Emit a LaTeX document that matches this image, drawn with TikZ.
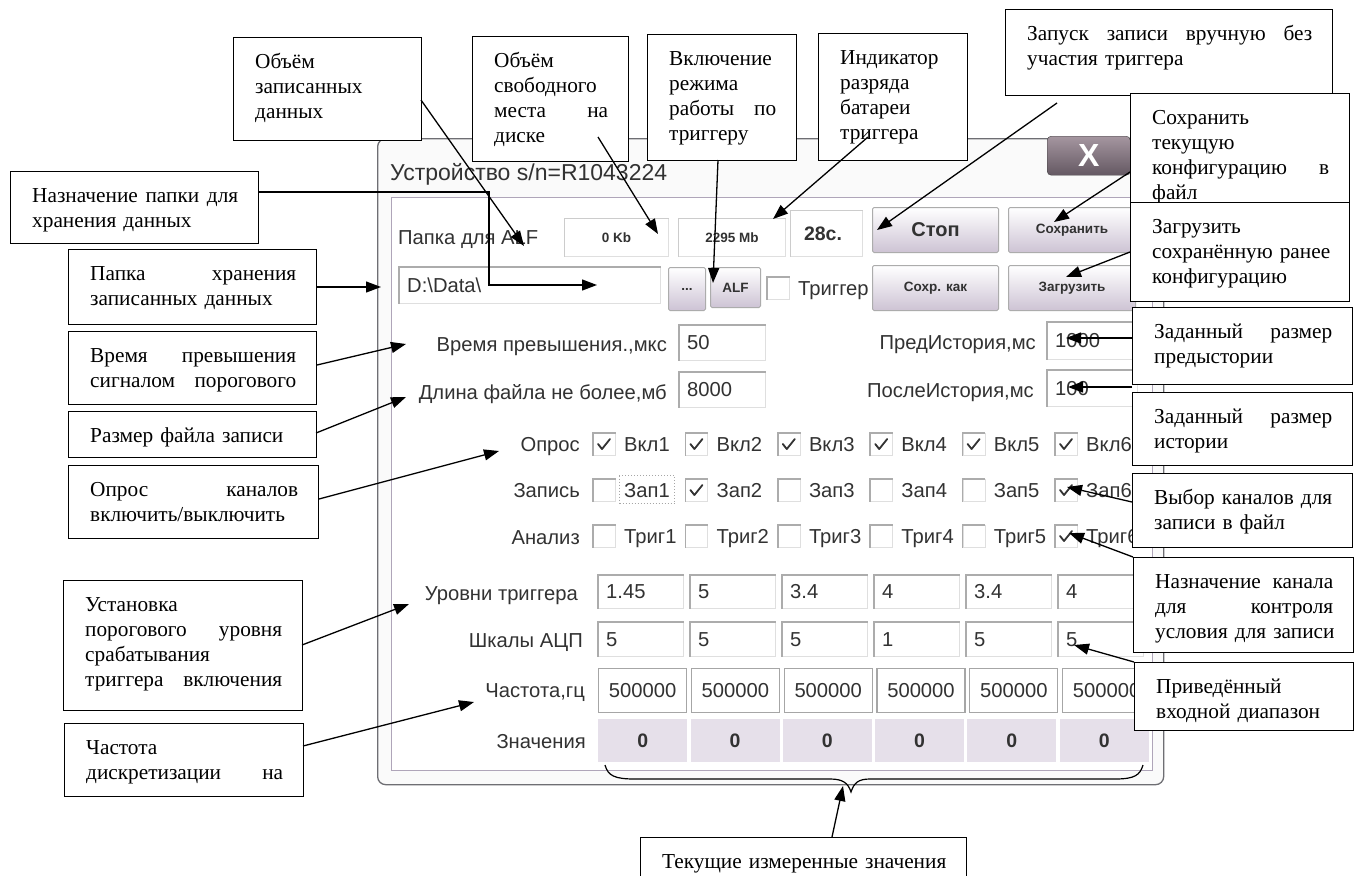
\documentclass[tikz,border=0pt]{standalone}
\usepackage{fontspec}
\setmainfont{Liberation Serif}
\newfontfamily\uisans{Liberation Sans}
\usetikzlibrary{arrows.meta}
\definecolor{uitext}{RGB}{50,50,50}
\definecolor{btnbot}{RGB}{205,195,212}
\definecolor{valfill}{RGB}{230,224,234}
\definecolor{framec}{RGB}{110,110,115}
\definecolor{panelc}{RGB}{175,165,185}
\definecolor{closetop}{RGB}{165,150,160}
\definecolor{closebot}{RGB}{100,88,98}
\newcommand\annfont{\fontsize{21.3}{25}\selectfont}
\newcommand\uifont{\uisans\fontsize{20.2}{22}\selectfont}
\newcommand\smb{\uisans\bfseries\fontsize{13.5}{15}\selectfont}
\newcommand\lj[1]{\leavevmode\hbox to\hsize{#1}}
\newcommand\annot[6]{%
  \node[annbox, minimum width=#4, minimum height=#5] (#1) at ({#2},{#3}) {};
  \node[anntext, text width=\dimexpr#4pt-42pt\relax] (#1t) at ([xshift=22pt,yshift=-16pt]#1.north west) {\rule{0pt}{15pt}#6};
}
\newcommand\fld[6]{%
  \node[sunken, minimum width=#4, minimum height=#5] (#1) at ({#2},{#3}) {};
  \draw[sunkedge] (#1.south west) |- (#1.north east);
  \node[ui, anchor=base west] (#1t) at ([xshift=8pt,yshift=-7pt]#1.west) {#6};
}
\newcommand\cb[5]{%
  \node[sunken, minimum width=22, minimum height=22] (#1) at ({#2},{#3}) {};
  \draw[sunkedge] (#1.south west) |- (#1.north east);
  \ifnum#4=1 \draw[tick] ([shift={(5pt,-11pt)}]#1.north west) -- ([shift={(9pt,-16pt)}]#1.north west) -- ([shift={(17pt,-6pt)}]#1.north west);\fi
  \node[ui, anchor=base west] (#1l) at ([xshift=31pt,yshift=-7pt]#1.west) {#5};
}
\newcommand\btn[7]{%
  \node[btn, minimum width=#4, minimum height=#5] (#1) at ({#2},{#3}) {};
  \node[ui, font=#7] (#1t) at (#1.center) {#6};
}
\begin{document}
\begin{tikzpicture}[x=1pt,y=-1pt,
  annbox/.style={draw=black, line width=1.3pt, fill=white, inner sep=0pt, anchor=north west},
  anntext/.style={anchor=north west, inner sep=0pt, align=left, font=\annfont},
  conn/.style={line width=1.3pt, -{Triangle[length=15pt,width=11pt]}},
  ui/.style={font=\uifont, text=uitext, inner sep=0pt},
  uilbl/.style={ui, anchor=base east},
  btn/.style={draw=gray!65, line width=1pt, top color=white, bottom color=btnbot, rounded corners=1.5pt, inner sep=0pt, anchor=north west},
  sunken/.style={draw=gray!25, line width=0.8pt, fill=white, inner sep=0pt, anchor=north west},
  sunkedge/.style={draw=gray!65, line width=1.6pt},
  framebox/.style={draw=gray!70, line width=1.2pt, fill=white, inner sep=0pt, anchor=north west},
  valbox/.style={fill=valfill, inner sep=0pt, anchor=north west},
  tick/.style={line width=1.8pt, draw=black!80, line cap=round, line join=round},
]
\useasboundingbox[fill=white] (0,0) rectangle (1361,876);

% ---------- window ----------
\node[draw=framec, line width=1.3pt, fill=gray!4, rounded corners=8pt, minimum width=786, minimum height=646, anchor=north west, inner sep=0pt] (win) at (377,138) {};
\node[draw=panelc, line width=1.2pt, fill=white, minimum width=761, minimum height=573, anchor=north west, inner sep=0pt] (panel) at (391,197) {};
\node[ui, anchor=base west, font=\uisans\fontsize{23}{25}\selectfont] (title) at (390,180) {Устройство s/n=R1043224};
\node[draw=gray!50!black, top color=closetop, bottom color=closebot, rounded corners=4pt, minimum width=83, minimum height=39, anchor=north west, inner sep=0pt] (close) at (1047,136) {};
\node[text=white, font=\uisans\bfseries\fontsize{32}{32}\selectfont, inner sep=0pt] (closex) at (close.center) {X};

% row 1
\node[ui, anchor=base west] (lpapka) at (398,244) {Папка для ALF};
\node[sunken, minimum width=104, minimum height=38] (kb) at (564,218) {};
\draw[sunkedge, draw=gray!40, line width=1pt] (kb.south west) |- (kb.north east);
\node[ui, font=\smb] (kbt) at (kb.center) {0 Kb};
\node[sunken, minimum width=107, minimum height=38] (mb) at (678,218) {};
\draw[sunkedge, draw=gray!40, line width=1pt] (mb.south west) |- (mb.north east);
\node[ui, font=\smb] (mbt) at (mb.center) {2295 Mb};
\node[sunken, minimum width=72, minimum height=46] (sec) at (790,210) {};
\draw[sunkedge, draw=gray!40, line width=1pt] (sec.south west) |- (sec.north east);
\node[ui, font=\uisans\bfseries\fontsize{19.5}{21}\selectfont] (sect) at (823,234) {28с.};
\btn{bstop}{872}{207}{126}{45}{Стоп}{\uisans\bfseries\fontsize{20}{21}\selectfont}
\btn{bsave}{1008}{207}{127}{45}{Сохранить}{\smb}
\btn{bsaveas}{872}{265}{126}{45}{Сохр. как}{\smb}
\btn{bload}{1008}{265}{127}{45}{Загрузить}{\smb}
% row 2
\fld{path}{399}{267}{261}{36}{D:\textbackslash Data\textbackslash}
\btn{bdots}{668}{267}{37}{43}{...}{\smb}
\btn{balf}{710}{267}{50}{40}{ALF}{\smb}
\cb{cbtrig}{767}{277}{0}{Триггер}
% rows 3-4
\node[uilbl] (lvrem) at (667,351) {Время превышения.,мкс};
\fld{fvrem}{679}{325}{86}{35}{50}
\node[uilbl] (ldlin) at (667,399) {Длина файла не более,мб};
\fld{fdlin}{679}{372}{86}{35}{8000}
\node[uilbl] (lpred) at (1036,349) {ПредИстория,мс};
\fld{fpred}{1047}{322}{90}{37}{1000}
\node[uilbl] (lposl) at (1034,397) {ПослеИстория,мс};
\fld{fposl}{1047}{370}{90}{36}{100}
% checkbox rows
\node[uilbl] (lopr) at (580,451) {Опрос};
\node[uilbl] (lzap) at (580,497) {Запись};
\node[uilbl] (lanl) at (580,544) {Анализ};
\foreach \k [count=\n] in {1,1,1,1,1,1}
  {\cb{cbo\n}{593+92.4*(\n-1)}{433}{\k}{Вкл\n}}
\foreach \k [count=\n] in {0,1,0,0,0,1}
  {\cb{cbz\n}{593+92.4*(\n-1)}{479}{\k}{Зап\n}}
\foreach \k [count=\n] in {0,0,0,0,0,1}
  {\cb{cba\n}{593+92.4*(\n-1)}{525}{\k}{Триг\n}}
\node[draw=gray!70, dotted, line width=1pt, minimum width=55, minimum height=28, anchor=north west, inner sep=0pt] (focus) at (619,475) {};
% lower grid
\node[uilbl] (lurv) at (578,600) {Уровни триггера};
\node[uilbl] (lshk) at (583,647) {Шкалы АЦП};
\node[uilbl] (lchs) at (585,697) {Частота,гц};
\node[uilbl] (lznc) at (586,748) {Значения};
\foreach \v [count=\n] in {1.45,5,3.4,4,3.4,4}
  {\fld{fu\n}{598+92*(\n-1)}{575}{85}{33}{\v}}
\foreach \v [count=\n] in {5,5,5,1,5,5}
  {\fld{fs\n}{598+92*(\n-1)}{622}{85}{34}{\v}}
\foreach \n in {1,...,6}
  {\node[framebox, minimum width=88, minimum height=44] (fc\n) at ({598+92.8*(\n-1)},668) {};
   \node[ui, anchor=base] (fc\n t) at ([yshift=-7pt]fc\n.center) {500000};}
\foreach \n in {1,...,6}
  {\node[valbox, minimum width=89, minimum height=43] (fv\n) at ({598+92.3*(\n-1)},719) {};
   \node[ui, font=\uisans\bfseries\fontsize{19.5}{21}\selectfont, anchor=base] (fv\n t) at ([yshift=-7pt]fv\n.center) {0};}

% ---------- annotation boxes ----------
\annot{b1}{233}{37}{188}{103}{Объём\\ записанных\\ данных}
\annot{b2}{10}{171}{248}{72}{\lj{Назначение\hfill папки\hfill для}\\ \mbox{хранения данных}}
\annot{b3}{68}{249}{248}{75}{\lj{Папка\hfill хранения}\\ \mbox{записанных данных}}
\annot{b4}{68}{331}{248}{73}{\lj{Время\hfill превышения}\\ \lj{сигналом\hfill порогового}}
\annot{b5}{68}{411}{248}{46}{\mbox{Размер файла записи}}
\annot{b6}{68}{465}{250}{73}{\lj{Опрос\hfill каналов}\\ включить/выключить}
\annot{b7}{63}{580}{239}{130}{Установка\\ \lj{порогового\hfill уровня}\\ срабатывания\\ \lj{триггера\hfill включения}}
\annot{b8}{64}{723}{239}{73}{Частота\\ \lj{дискретизации\hfill на}}
\annot{b9}{472}{36}{156}{125}{Объём\\ свободного\\ \lj{места\hfill на}\\ диске}
\annot{b10}{647}{34}{149}{126}{Включение\\ режима\\ \lj{работы\hfill по}\\ триггеру}
\annot{b11}{818}{33}{149}{127}{Индикатор\\ разряда\\ батареи\\ триггера}
\annot{b12}{1005}{9}{327}{86}{\lj{Запуск\hfill записи\hfill вручную\hfill без}\\ \mbox{участия триггера}}
\annot{b13}{1130}{93}{219}{109}{Сохранить\\ текущую\\ \lj{конфигурацию\hfill в}\\ файл}
\annot{b14}{1130}{202}{219}{99}{Загрузить\\ \mbox{сохранённую ранее}\\ конфигурацию}
\annot{b15}{1132}{307}{220}{77}{\lj{Заданный\hfill размер}\\ предыстории}
\annot{b16}{1132}{392}{220}{73}{\lj{Заданный\hfill размер}\\ истории}
\annot{b17}{1132}{473}{220}{74}{\lj{Выбор\hfill каналов\hfill для}\\ \mbox{записи в файл}}
\annot{b18}{1133}{557}{220}{95}{\lj{Назначение\hfill канала}\\ \lj{для\hfill контроля}\\ \mbox{условия для записи}}
\annot{b19}{1134}{662}{219}{68}{Приведённый\\ \mbox{входной диапазон}}
\annot{b20}{640}{837}{326}{60}{\mbox{Текущие измеренные значения}}

% ---------- connectors ----------
\coordinate (s1) at (421,100);  \coordinate (e1) at (524,246);
\coordinate (s2) at (258,192);  \coordinate (k2) at (489,192); \coordinate (k2b) at (489,285); \coordinate (e2) at (597,285);
\coordinate (s3) at (316,287);  \coordinate (e3) at (381,287);
\coordinate (s4) at (317,365);  \coordinate (e4) at (406,344);
\coordinate (s5) at (316,433);  \coordinate (e5) at (406,397);
\coordinate (s6) at (319,499);  \coordinate (e6) at (499,451);
\coordinate (s7) at (302,645);  \coordinate (e7) at (409,604);
\coordinate (s8) at (303,746);  \coordinate (e8) at (474,702);
\coordinate (s9) at (598,137);  \coordinate (e9) at (658,234);
\coordinate (s10) at (718,160); \coordinate (e10) at (713,283);
\coordinate (s11) at (868,137); \coordinate (e11) at (773,219);
\coordinate (s12) at (1057,103); \coordinate (e12) at (877,230);
\coordinate (s13) at (1130,172); \coordinate (e13) at (1054,222);
\coordinate (s14) at (1130,252); \coordinate (e14) at (1066,277);
\coordinate (s15) at (1132,338); \coordinate (e15) at (1066,338);
\coordinate (s16) at (1132,387); \coordinate (e16) at (1068,387);
\coordinate (s17) at (1132,502); \coordinate (e17) at (1067,487);
\coordinate (s18) at (1133,557); \coordinate (e18) at (1069,533);
\coordinate (s19) at (1134,662); \coordinate (e19) at (1074,645);
\coordinate (s20) at (832,837);  \coordinate (e20) at (843,786);
\draw[conn] (s1) -- (e1);
\draw[conn] (s2) -- (k2) -- (k2b) -- (e2);
\foreach \i in {3,...,20} {\draw[conn] (s\i) -- (e\i);}
% brace
\draw[line width=1.2pt] (605,765) .. controls (608,776) and (615,779) .. (635,779) -- (830,779) .. controls (843,779) and (848,783) .. (851,792) .. controls (854,783) and (858,779) .. (870,779) -- (1115,779) .. controls (1135,779) and (1140,775) .. (1143,765);
\end{tikzpicture}
\end{document}
